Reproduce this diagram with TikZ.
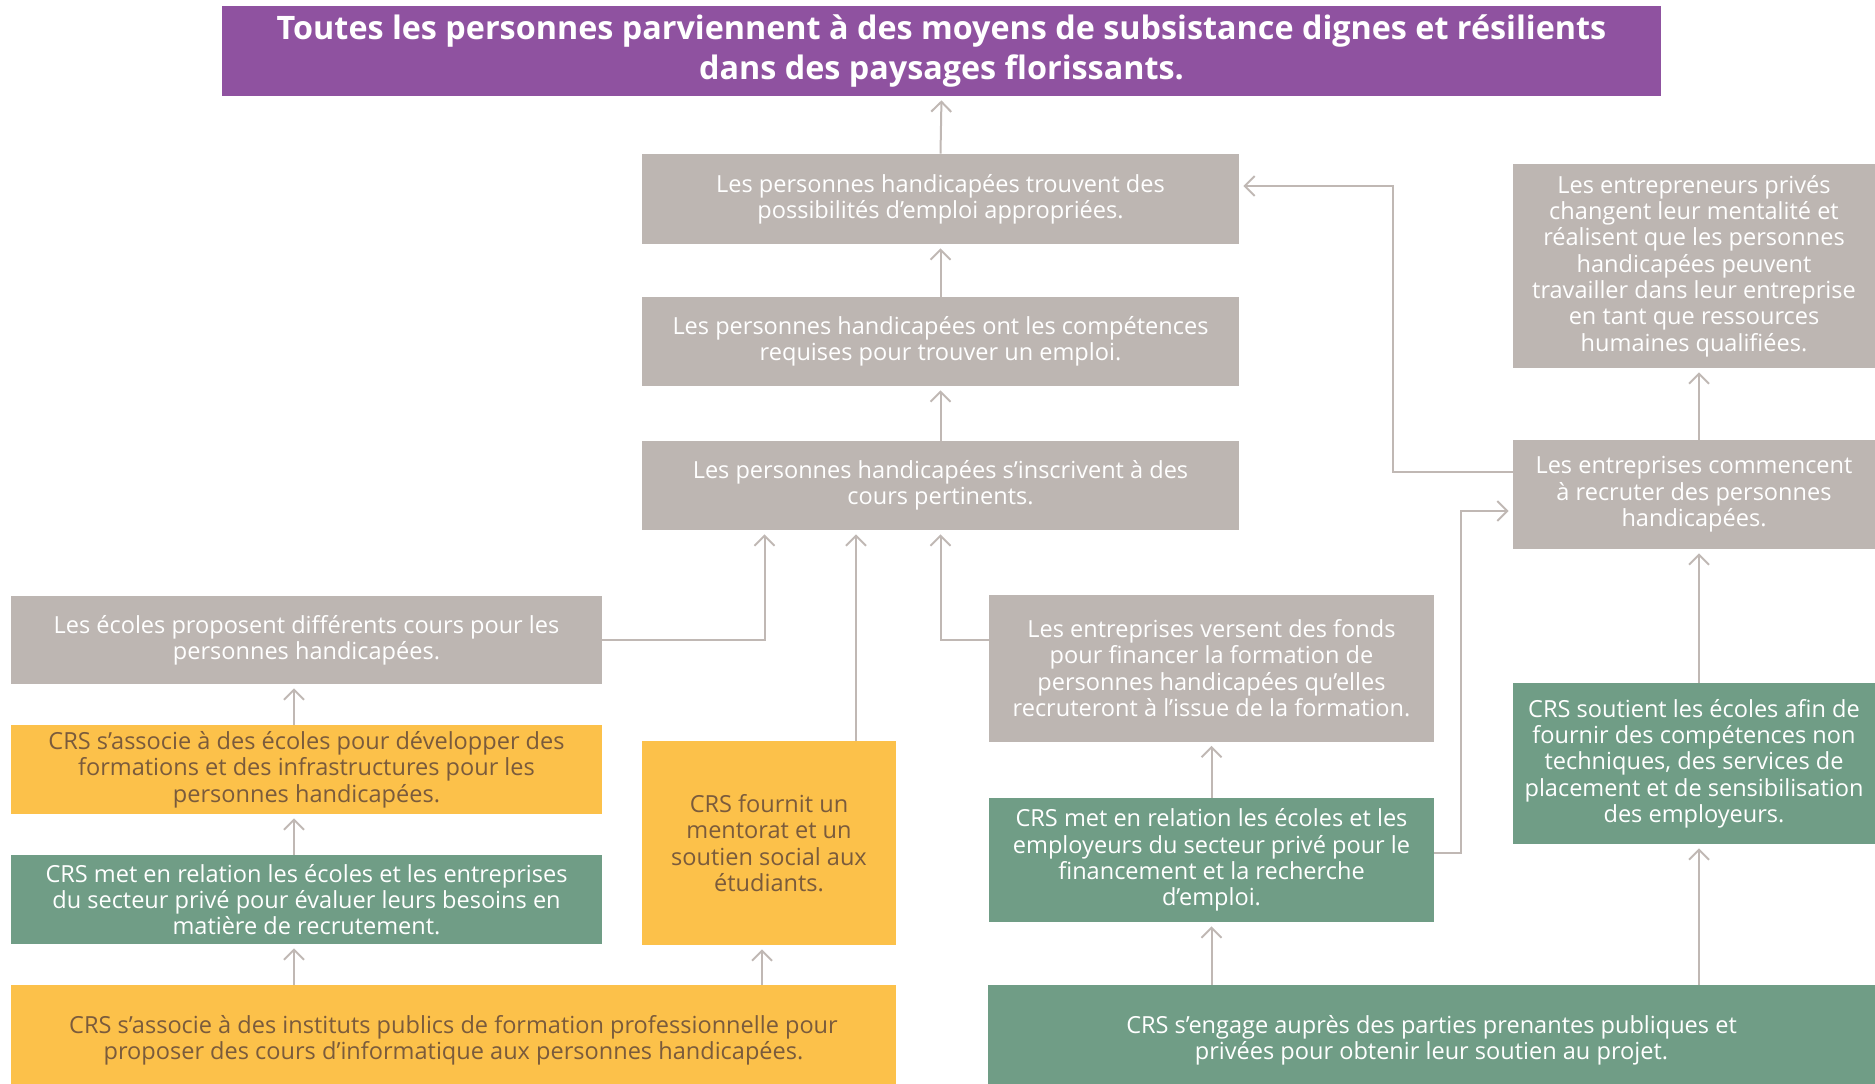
\documentclass[tikz,border=0pt]{standalone}
\usepackage{fontspec}
\setmainfont{Open Sans}
\usetikzlibrary{arrows.meta,calc}
\definecolor{goalpurple}{HTML}{8F52A0}
\definecolor{boxgrey}{HTML}{BDB6B2}
\definecolor{boxgreen}{HTML}{709D86}
\definecolor{boxyellow}{HTML}{FCC14A}
\definecolor{textbrown}{HTML}{7A5B3C}
\definecolor{linegrey}{HTML}{C0B8B4}
\tikzset{
	box/.style={minimum width=#1, inner sep=0pt, align=center, font=\fontsize{13.4}{15}\selectfont},
	greybox/.style={box=#1, fill=boxgrey, text=white},
	greenbox/.style={box=#1, fill=boxgreen, text=white},
	yellowbox/.style={box=#1, fill=boxyellow, text=textbrown},
	conn/.style={draw=linegrey, line width=0.04cm, shorten >=0.08cm, -{Straight Barb[length=0.2cm,width=0.4cm]}}
}
\begin{document}
\begin{tikzpicture}[x=0.02cm,y=-0.02cm]
	\useasboundingbox (0,0) rectangle (1875,1083);
	\node[fill=goalpurple, text=white, minimum width=28.78cm, minimum height=1.8cm, align=center, font=\fontsize{18.4}{22.5}\selectfont\bfseries] (goal) at (941.5,51) {Toutes les personnes parviennent à des moyens de subsistance dignes et résilients\\dans des paysages florissants.};
	
	\node[greybox=11.94cm, minimum height=1.8cm] (b1) at (940.5,199) {Les personnes handicapées trouvent des\\possibilités d’emploi appropriées.};
	\node[greybox=11.94cm, minimum height=1.78cm] (b2) at (940.5,341.5) {Les personnes handicapées ont les compétences\\requises pour trouver un emploi.};
	\node[greybox=11.94cm, minimum height=1.78cm] (b3) at (940.5,485.5) {Les personnes handicapées s’inscrivent à des\\cours pertinents.};
	
	\node[greybox=11.82cm, minimum height=1.76cm] (ecoles) at (306.5,640) {Les écoles proposent différents cours pour les\\personnes handicapées.};
	\node[yellowbox=11.82cm, minimum height=1.78cm] (assoc) at (306.5,769.5) {CRS s’associe à des écoles pour développer des\\formations et des infrastructures pour les\\personnes handicapées.};
	\node[greenbox=11.82cm, minimum height=1.78cm] (relL) at (306.5,899.5) {CRS met en relation les écoles et les entreprises\\du secteur privé pour évaluer leurs besoins en\\matière de recrutement.};
	\node[yellowbox=17.7cm, minimum height=2.2cm] (instit) at (453.5,1040) {CRS s’associe à des instituts publics de formation professionnelle pour\\proposer des cours d’informatique aux personnes handicapées.};
	\node[yellowbox=5.08cm, minimum height=4.08cm] (mentor) at (769,843) {CRS fournit un\\mentorat et un\\soutien social aux\\étudiants.};
	
	\node[greybox=8.9cm, minimum height=2.94cm] (verse) at (1211.5,668) {Les entreprises versent des fonds\\pour financer la formation de\\personnes handicapées qu’elles\\recruteront à l’issue de la formation.};
	\node[greenbox=8.9cm, minimum height=2.48cm] (relM) at (1211.5,860) {CRS met en relation les écoles et les\\employeurs du secteur privé pour le\\financement et la recherche\\d’emploi.};
	\node[greenbox=17.74cm, minimum height=2.2cm] (engage) at (1431.5,1040) {CRS s’engage auprès des parties prenantes publiques et\\privées pour obtenir leur soutien au projet.};
	
	\node[greybox=7.24cm, minimum height=4.08cm] (prives) at (1694,266) {Les entrepreneurs privés\\changent leur mentalité et\\réalisent que les personnes\\handicapées peuvent\\travailler dans leur entreprise\\en tant que ressources\\humaines qualifiées.};
	\node[greybox=7.24cm, minimum height=2.18cm] (commence) at (1694,494.5) {Les entreprises commencent\\à recruter des personnes\\handicapées.};
	\node[greenbox=7.24cm, minimum height=3.22cm] (soutient) at (1694,763.5) {CRS soutient les écoles afin de\\fournir des compétences non\\techniques, des services de\\placement et de sensibilisation\\des employeurs.};
	
	\coordinate (lc) at ([xshift=-0.25cm]ecoles.south);
	\coordinate (rc) at ([xshift=0.1cm]soutient.south);
	\coordinate (mt) at ([xshift=1.74cm]mentor.north);
	\coordinate (mb) at ([xshift=-0.14cm]mentor.south);
	
	\draw[conn] (b1.north) -- (goal.south);
	\draw[conn] (b2.north) -- (b1.south);
	\draw[conn] (b3.north) -- (b2.south);
	\draw[conn] (ecoles.east) -| ($(b3.south)+(-176,0)$);
	\draw[conn] (mt) -- (mt |- b3.south);
	\draw[conn] (verse.west |- ecoles.east) -| (b3.south);
	\draw[conn] ([yshift=0.45cm]commence.west) -- ++(-120,0) |- ([yshift=0.26cm]b1.east);
	\draw[conn] ([yshift=0.14cm]relM.east) -- ++(27,0) |- ([yshift=-0.33cm]commence.west);
	\draw[conn] (rc |- commence.north) -- (rc |- prives.south);
	\draw[conn] (rc |- soutient.north) -- (rc |- commence.south);
	\draw[conn] (rc |- engage.north) -- (rc);
	\draw[conn] (relM.north) -- (verse.south);
	\draw[conn] (relM.south |- engage.north) -- (relM.south);
	\draw[conn] (lc |- assoc.north) -- (lc);
	\draw[conn] (lc |- relL.north) -- (lc |- assoc.south);
	\draw[conn] (lc |- instit.north) -- (lc |- relL.south);
	\draw[conn] (mb |- instit.north) -- (mb);
\end{tikzpicture}
\end{document}
